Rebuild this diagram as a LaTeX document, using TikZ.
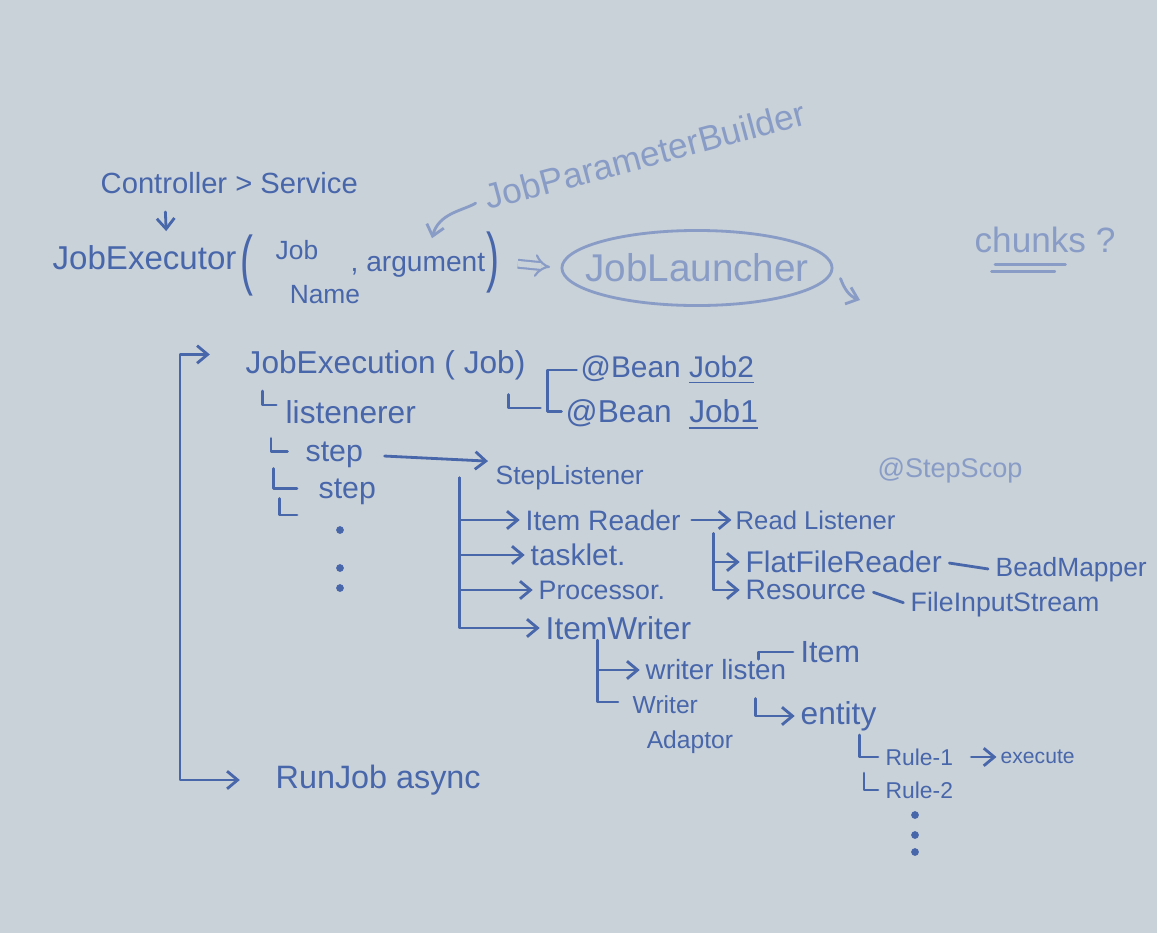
\documentclass[tikz,border=0pt]{standalone}
\usepackage{fontspec}
\setmainfont{Liberation Sans}
\usepackage{tikz}
\usetikzlibrary{arrows.meta, positioning, calc, shapes.geometric}
\definecolor{board}{RGB}{201,209,217}
\definecolor{inkblue}{RGB}{72,102,170}
\definecolor{fadedink}{RGB}{136,156,198}
\newcommand{\fsz}[1]{\fontsize{#1}{#1}\selectfont}

\begin{document}
\begin{tikzpicture}[x=0.01cm, y=-0.01cm,
    txt/.style={inner sep=0pt, anchor=west, text=inkblue},
    faint/.style={inner sep=0pt, text=fadedink},
    wire/.style={draw=inkblue, line width=0.8pt, line cap=round, line join=round},
    fadedwire/.style={wire, draw=fadedink},
    tip/.style={wire, -{Straight Barb[length=3pt,width=5pt]}},
    fadedtip/.style={tip, draw=fadedink}]

    \fill[board] (0,0) rectangle (1157,933);
    \useasboundingbox (0,0) rectangle (1157,933);

    % top row
    \node[txt, font=\fsz{8.3}] (ctrl) at (100,183) {Controller > Service};
    \node[txt, font=\fsz{9.4}] (jobexec) at (52,258) {JobExecutor};
    \node[txt, font=\fsz{11}, yscale=1.7] (lparen) at (240,265) {(};
    \node[txt, font=\fsz{7.5}, anchor=north west, align=left] (jobname) at (275,240) {Job\\[5pt]\hspace*{4pt}Name};
    \node[txt, font=\fsz{8}] (argument) at (350,265) {, argument};
    \node[txt, font=\fsz{11}, yscale=1.7] (rparen) at (486,262) {)};
    \node[ellipse, draw=fadedink, line width=0.8pt, minimum width=2.7cm, minimum height=0.75cm,
        inner xsep=-10pt, inner ysep=0pt, text=fadedink, font=\fsz{11}] (launcher) at (697,268) {JobLauncher};
    \node[faint, font=\fsz{10}, rotate=15] (parambuilder) at (645,155) {JobParameterBuilder};
    \node[faint, font=\fsz{10}] (chunks) at (1045,240) {chunks ?};
    \node[faint, font=\fsz{7.7}] (stepscope) at (950,470) {@StepScop};
    \coordinate (launchout) at (860,300);

    \draw[tip, shorten <=5pt, shorten >=4pt] ($(ctrl.south west)!.25!(ctrl.south east)$) -- ($(jobexec.north west)!.62!(jobexec.north east)$);
    \draw[fadedtip, shorten <=3pt] (parambuilder.west) to[out=210, in=75] ([xshift=4pt, yshift=4pt]argument.north);
    \draw[fadedink, line width=0.6pt, double=board, double distance=1.6pt, -{Implies}, shorten <=5pt, shorten >=3pt] (rparen.east) -- (launcher.west);
    \draw[fadedtip] ([xshift=2pt, yshift=-3pt]launcher.east) to[out=-70, in=160] (launchout);
    \draw[fadedwire] ([shift={(6pt,-3pt)}]chunks.south west) -- ++(20pt,0);
    \draw[fadedwire] ([shift={(5pt,-5pt)}]chunks.south west) -- ++(18pt,0);

    % job execution tree
    \node[txt, font=\fsz{9}] (execution) at (245,365) {JobExecution ( Job)};
    \node[txt, font=\fsz{8.5}] (bean2) at (580,370) {@Bean \underline{Job2}};
    \node[txt, font=\fsz{9}] (bean1) at (565,415) {@Bean \ \underline{Job1}};
    \node[txt, font=\fsz{9}] (listener) at (285,412) {listenerer};
    \node[txt, font=\fsz{8.6}] (step1) at (305,455) {step};
    \node[txt, font=\fsz{8.6}] (step2) at (318,492) {step};
    \coordinate (moresteps) at (297,515);
    \node[txt, font=\fsz{9.2}] (runjob) at (275,780) {RunJob async};
    \coordinate (spine) at (180,570);

    \draw[tip, shorten >=10pt] (spine) |- ([yshift=3pt]execution.west);
    \draw[tip, shorten >=10pt] (spine) |- (runjob.west);
    \draw[wire] ([xshift=5pt,yshift=-3pt]execution.south west) |- ([xshift=-2.5pt,yshift=2pt]listener.west);
    \draw[wire] ([xshift=-4pt,yshift=-4pt]listener.south west) |- ([xshift=-5pt,yshift=1pt]step1.west);
    \draw[wire] ([xshift=-9pt]step1.south west) |- ([xshift=-6pt,yshift=1pt]step2.west);
    \draw[wire] ([xshift=-11pt,yshift=2pt]step2.south west) |- (moresteps);
    \foreach \y in {530,568,588} \fill[inkblue] (340,\y) circle (1.1pt);
    \draw[wire] ([xshift=-5pt,yshift=-4pt]execution.south east) |- ([xshift=-7pt,yshift=2pt]bean1.west);
    \draw[wire] ([xshift=-1pt]bean2.west) -| ([xshift=-5pt,yshift=1pt]bean1.west) -- ([xshift=-1pt,yshift=1pt]bean1.west);

    % step tree
    \node[txt, font=\fsz{7.5}] (steplistener) at (495,478) {StepListener};
    \node[txt, font=\fsz{8}] (reader) at (525,520) {Item Reader};
    \node[txt, font=\fsz{8.5}] (tasklet) at (530,555) {tasklet.};
    \node[txt, font=\fsz{7.6}] (processor) at (538,590) {Processor.};
    \node[txt, font=\fsz{9}] (writer) at (545,628) {ItemWriter};

    \draw[tip, shorten <=6pt, shorten >=2pt] (step1.east) -- ([yshift=1pt]steplistener.north west);
    \foreach \n in {reader,tasklet,processor,writer}
        \draw[tip, shorten >=1.5pt] ([xshift=-10pt]steplistener.west) |- (\n.west);

    % reader side
    \node[txt, font=\fsz{7.3}] (readlistener) at (735,520) {Read Listener};
    \node[txt, font=\fsz{8.5}] (flatreader) at (745,562) {FlatFileReader};
    \node[txt, font=\fsz{7.5}] (beanmapper) at (995,570) {BeadMapper};
    \node[txt, font=\fsz{8}] (resource) at (745,590) {Resource};
    \node[txt, font=\fsz{7.6}] (fis) at (910,605) {FileInputStream};

    \draw[tip, shorten <=3pt, shorten >=1pt] (reader.east) -- (readlistener.west);
    \foreach \n in {flatreader,resource}
        \draw[tip, shorten >=1.5pt] ([xshift=-6pt,yshift=-1pt]readlistener.south west) |- (\n.west);
    \draw[wire, shorten <=2pt, shorten >=2pt] (flatreader.east) -- (beanmapper.west);
    \draw[wire, shorten <=2pt, shorten >=2pt] (resource.east) -- (fis.west);

    % writer side
    \node[txt, font=\fsz{7.9}] (writerlistener) at (645,670) {writer listen};
    \node[txt, font=\fsz{8.7}] (item) at (800,652) {Item};
    \node[txt, font=\fsz{7}, anchor=north west, align=left] (adaptor) at (632,695) {Writer\\[3pt]\hspace*{4pt}Adaptor};
    \node[txt, font=\fsz{9}] (entity) at (800,716) {entity};
    \node[txt, font=\fsz{6.5}] (rule1) at (885,757) {Rule-1};
    \node[txt, font=\fsz{6}] (execute) at (1000,757) {execute};
    \node[txt, font=\fsz{6.5}] (rule2) at (885,790) {Rule-2};

    \draw[tip, shorten >=1.5pt] ([xshift=15pt]writer.south west) |- (writerlistener.west);
    \draw[wire] ([xshift=15pt]writer.south west) |- ([shift={(-4pt,-2pt)}]adaptor.north west);
    \draw[wire] ([xshift=-8pt]writerlistener.north east) |- ([xshift=-2pt]item.west);
    \draw[tip, shorten >=1.5pt] ([xshift=-9pt,yshift=-5pt]writerlistener.south east) |- (entity.west);
    \draw[wire] ([xshift=17pt,yshift=-1pt]entity.south west) |- ([xshift=-2pt]rule1.west);
    \draw[wire] ([xshift=-6pt,yshift=-2pt]rule1.south west) |- ([xshift=-2pt]rule2.west);
    \draw[tip, shorten <=5pt, shorten >=1pt] (rule1.east) -- (execute.west);
    \foreach \y in {815,835,852} \fill[inkblue] (915,\y) circle (1.1pt);
\end{tikzpicture}
\end{document}
